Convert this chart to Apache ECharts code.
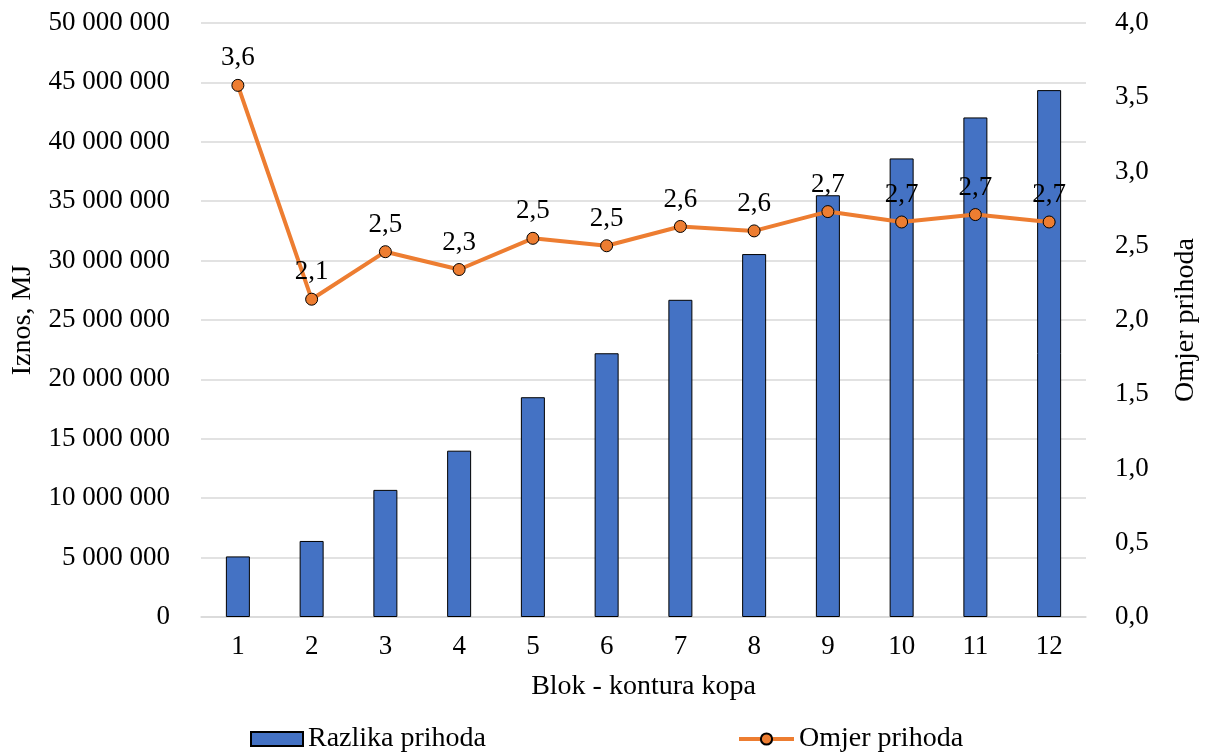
<!DOCTYPE html>
<html><head><meta charset="utf-8">
<script src="https://cdn.jsdelivr.net/npm/echarts@6/dist/echarts.min.js"></script>
<style>html,body{margin:0;padding:0;background:#fff}#c{width:1207px;height:753px}</style>
</head><body><div id="c"></div>
<script>
const categories = ['1','2','3','4','5','6','7','8','9','10','11','12'];
const razlikaPrihoda = [5100000, 6400000, 10700000, 14000000, 18500000, 22200000, 26700000, 30550000, 35500000, 38600000, 42050000, 44350000];
const omjerPrihoda = [3.58, 2.14, 2.46, 2.34, 2.55, 2.50, 2.63, 2.60, 2.73, 2.66, 2.71, 2.66];
const seriesNames = ['Razlika prihoda', 'Omjer prihoda'];
const axisNames = ['Iznos, MJ', 'Omjer prihoda', 'Blok - kontura kopa'];

const font = 'Liberation Serif, Times New Roman, serif';
const chart = echarts.init(document.getElementById('c'));
const fmtBig = v => String(Math.round(v)).replace(/\B(?=(\d{3})+(?!\d))/g, ' ');
const fmtDec = v => v.toFixed(1).replace('.', ',');
const ts = {fontFamily: font, fontSize: 27, color: '#000'};
const ns = {fontFamily: font, fontSize: 28, color: '#000'};
chart.setOption({
  animation: false,
  textStyle: {fontFamily: font, color: '#000'},
  grid: {left: 201, right: 121, top: 23, bottom: 136, outerBoundsMode: 'none', containLabel: false},
  legend: [
    {data: [{name: seriesNames[0], icon: 'rect'}], left: 250, top: 725, padding: 0, itemWidth: 52, itemHeight: 14,
     textStyle: ns},
    {data: [seriesNames[1]], left: 737, top: 725, padding: 0, itemWidth: 55, itemHeight: 14,
     textStyle: ns, lineStyle: {width: 4}}
  ],
  xAxis: {
    type: 'category', data: categories,
    name: axisNames[2], nameLocation: 'middle', nameGap: 56,
    nameTextStyle: ns,
    axisLine: {lineStyle: {color: '#d9d9d9', width: 1.5}},
    axisTick: {show: false},
    axisLabel: Object.assign({margin: 16}, ts)
  },
  yAxis: [
    {type: 'value', min: 0, max: 50000000, interval: 5000000,
     name: axisNames[0], nameLocation: 'middle', nameGap: 164,
     nameTextStyle: ns,
     axisLine: {show: false}, axisTick: {show: false},
     splitLine: {lineStyle: {color: '#d9d9d9', width: 1.5}},
     axisLabel: Object.assign({margin: 31, formatter: fmtBig}, ts)},
    {type: 'value', min: 0, max: 4, interval: 0.5,
     name: axisNames[1], nameLocation: 'middle', nameGap: 86,
     nameTextStyle: ns,
     axisLine: {show: false}, axisTick: {show: false}, splitLine: {show: false},
     axisLabel: Object.assign({margin: 29, formatter: fmtDec}, ts)}
  ],
  series: [
    {name: seriesNames[0], type: 'bar', data: razlikaPrihoda, barWidth: 24,
     itemStyle: {color: '#4472C4', borderColor: '#000', borderWidth: 1}},
    {name: seriesNames[1], type: 'line', yAxisIndex: 1, data: omjerPrihoda,
     symbol: 'circle', symbolSize: 12,
     lineStyle: {color: '#ED7D31', width: 4},
     itemStyle: {color: '#ED7D31', borderColor: '#000', borderWidth: 1},
     label: Object.assign({show: true, position: 'top', distance: 7,
             formatter: p => fmtDec(p.value)}, ts)}
  ]
});
</script></body></html>
